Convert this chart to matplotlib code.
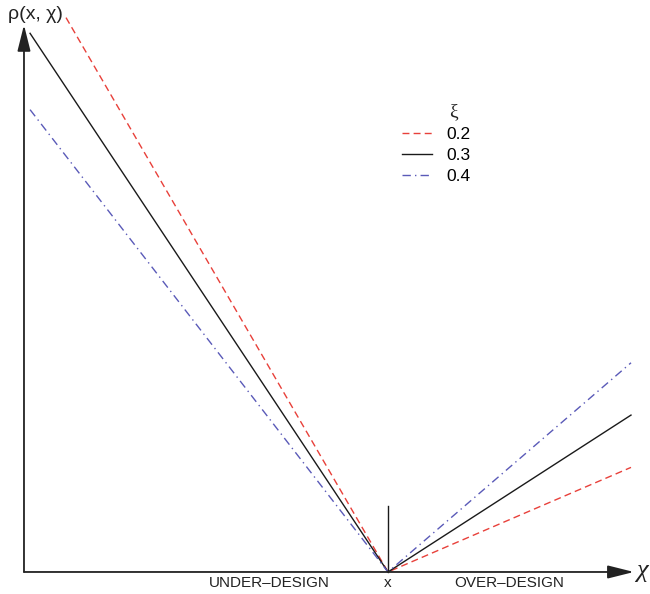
import matplotlib
matplotlib.use("Agg")
import matplotlib.pyplot as plt

plt.rcParams["font.family"] = ["Liberation Sans", "DejaVu Sans"]

# Quantile (pinball) loss rho(x, chi) against chi - x for three quantile levels
xi_levels = ["0.2", "0.3", "0.4"]
offsets = {
    "0.2": [-1.325, 0.0, 1.0],
    "0.3": [-1.473, 0.0, 1.0],
    "0.4": [-1.473, 0.0, 1.0],
}
losses = {
    "0.2": [1.06, 0.0, 0.2],
    "0.3": [1.03, 0.0, 0.3],
    "0.4": [0.884, 0.0, 0.4],
}
colors = {"0.2": "#e8403a", "0.3": "#1a1a1a", "0.4": "#5a5ab8"}
styles = {"0.2": (0, (5, 3)), "0.3": "-", "0.4": (0, (6, 3, 1, 3))}

region_labels = ["UNDER\u2013DESIGN", "x", "OVER\u2013DESIGN"]
region_pos = [-0.49, 0.0, 0.50]

fig = plt.figure(figsize=(6.5, 5.94), dpi=100)
ax = fig.add_axes([0, 0, 1, 1])
ax.set_xlim(-1.5967, 1.0782)
ax.set_ylim(-0.0421, 1.0937)
ax.axis("off")

for xi in xi_levels:
    ax.plot(offsets[xi], losses[xi], color=colors[xi], linestyle=styles[xi],
            linewidth=1.0, label=xi)

# axes drawn as arrows from the origin
x0 = -1.498
arrow = dict(arrowstyle="-|>,head_length=1.6,head_width=0.4",
             color="#222222", lw=1.3, mutation_scale=10, shrinkA=0, shrinkB=0)
ax.annotate("", xy=(1.012, 0), xytext=(x0, 0), arrowprops=arrow)
ax.annotate("", xy=(x0, 1.046), xytext=(x0, 0), arrowprops=arrow)

# marker at chi = x
ax.plot([0, 0], [0, 0.126], color="#1a1a1a", linewidth=1.0)

for lab, pos in zip(region_labels, region_pos):
    ax.text(pos, -0.022, lab, ha="center", va="center", fontsize=11,
            color="#222222")

ax.text(1.022, 0.002, "\u03c7", ha="left", va="center", fontsize=19,
        family=["Liberation Serif", "DejaVu Serif"], style="italic",
        color="#222222")
ax.text(-1.5967 + 35 / 243, 1.0937 - 15 / 523, "\u03c1(x, \u03c7)",
        ha="center", va="center", fontsize=14, color="#222222")

# legend
ax.text(0.268, 1.0937 - 112 / 523, "\u03be", ha="center", va="center",
        fontsize=14, family=["Liberation Serif", "DejaVu Serif"],
        color="#222222")
ax.legend(loc="upper left", bbox_to_anchor=(402 / 650, 1 - 127 / 594),
          frameon=False, fontsize=12.5, handlelength=1.72, handletextpad=0.86,
          labelspacing=0.33, borderpad=0.0, borderaxespad=0.0)

fig.savefig("out.png", dpi=100)
